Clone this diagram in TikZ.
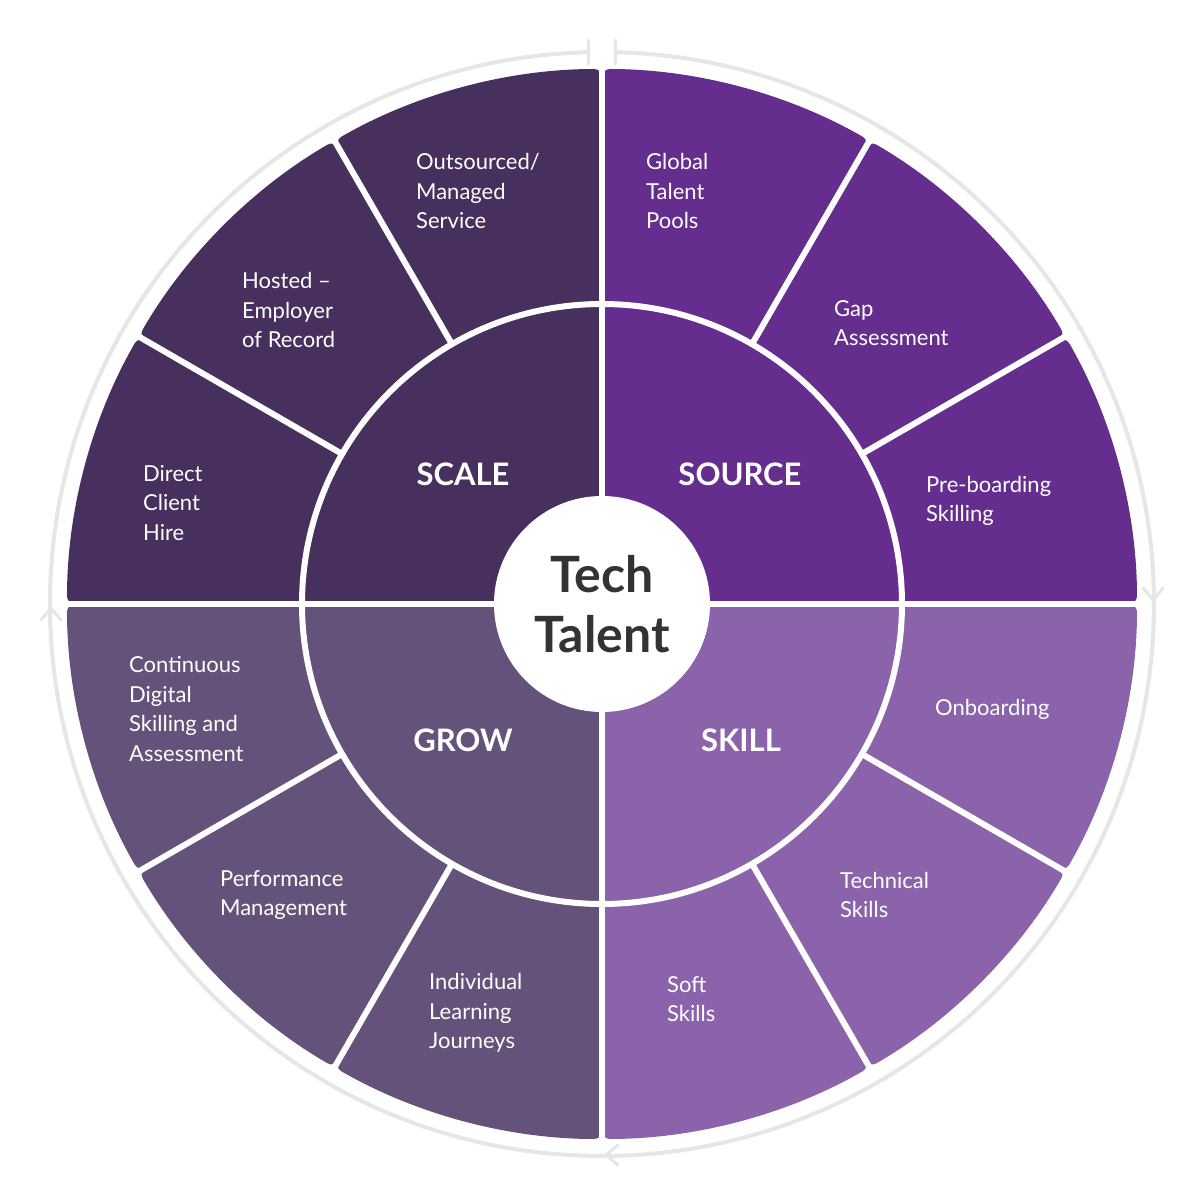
\documentclass[tikz,border=0pt]{standalone}
\usepackage{fontspec}
\usetikzlibrary{calc}
\setmainfont{Lato}
\definecolor{cscale}{HTML}{472F5E}
\definecolor{csource}{HTML}{652D8E}
\definecolor{cskill}{HTML}{8A63AA}
\definecolor{cgrow}{HTML}{65527A}
\definecolor{ring}{HTML}{E6E6E6}
\tikzset{
 lbl/.style={text=white,font=\fontsize{22}{29.5}\selectfont,align=left,anchor=west,inner sep=0},
 ttl/.style={text=white,font=\bfseries\fontsize{31}{36}\selectfont,inner sep=0},
 gap/.style={white,line width=6pt},
 chev/.style={ring,line width=3pt,line cap=round,line join=round}
}
\begin{document}
\begin{tikzpicture}[x=1pt,y=1pt]
\useasboundingbox[fill=white] (-602,-599) rectangle (601,604);
% quadrants
\foreach \a/\c in {90/cscale,0/csource,270/cskill,180/cgrow}{
  \fill[\c] (0,0) -- (\a:300) arc[start angle=\a,end angle=\a+90,radius=300] -- cycle;
  \foreach \k in {0,30,60}{
    \fill[\c,rounded corners=8pt] (\a+\k:298) -- (\a+\k:535) arc[start angle=\a+\k,end angle=\a+\k+30,radius=535] -- (\a+\k+30:298) -- cycle;
  }
}
% gaps
\draw[gap] (0,0) circle[radius=300];
\foreach \a in {0,90,180,270}{\draw[gap] (0,0) -- (\a:545);}
\foreach \a in {30,60,120,150,210,240,300,330}{\draw[gap] (\a:300) -- (\a:545);}
\fill[white] (0,0) circle[radius=108];
% outer ring
\draw[ring,line width=4pt] (88.6:552) arc[start angle=88.6,end angle=-268.6,radius=552];
\draw[chev] ($(88.6:552)+(0,-12)$) -- ($(88.6:552)+(0,12)$);
\draw[chev] ($(91.4:552)+(0,-12)$) -- ($(91.4:552)+(0,12)$);
\draw[chev] (541,16) -- (551,4) -- (561,16);
\draw[chev] (16,-541) -- (4,-551) -- (16,-561);
\draw[chev] (-561,-16) -- (-551,-4) -- (-541,-16);
% texts
\node[lbl] (t1) at (-186,413) {Outsourced/\\Managed\\Service};
\node[lbl] (t2) at (-360,294) {Hosted –\\Employer\\of Record};
\node[lbl] (t3) at (-459,101) {Direct\\Client\\Hire};
\node[lbl] (t4) at (44,413) {Global\\Talent\\Pools};
\node[lbl] (t5) at (232,281) {Gap\\Assessment};
\node[lbl] (t6) at (324,103) {Pre-boarding\\Skilling};
\node[lbl] (t7) at (333,-105) {Onboarding};
\node[lbl] (t8) at (238,-291) {Technical\\Skills};
\node[lbl] (t9) at (65,-395) {Soft\\Skills};
\node[lbl] (t10) at (-173,-409) {Individual\\Learning\\Journeys};
\node[lbl] (t11) at (-382,-291) {Performance\\Management};
\node[lbl] (t12) at (-473,-105) {Continuous\\Digital\\Skilling and\\Assessment};
\node[ttl] (s1) at (-139,130) {SCALE};
\node[ttl] (s2) at (138,130) {SOURCE};
\node[ttl] (s3) at (-139,-136) {GROW};
\node[ttl] (s4) at (139,-136) {SKILL};
\node[text=black!80,font=\bfseries\fontsize{50}{60}\selectfont,align=center,inner sep=0] (c) at (0,0) {Tech\\Talent};
\end{tikzpicture}
\end{document}
